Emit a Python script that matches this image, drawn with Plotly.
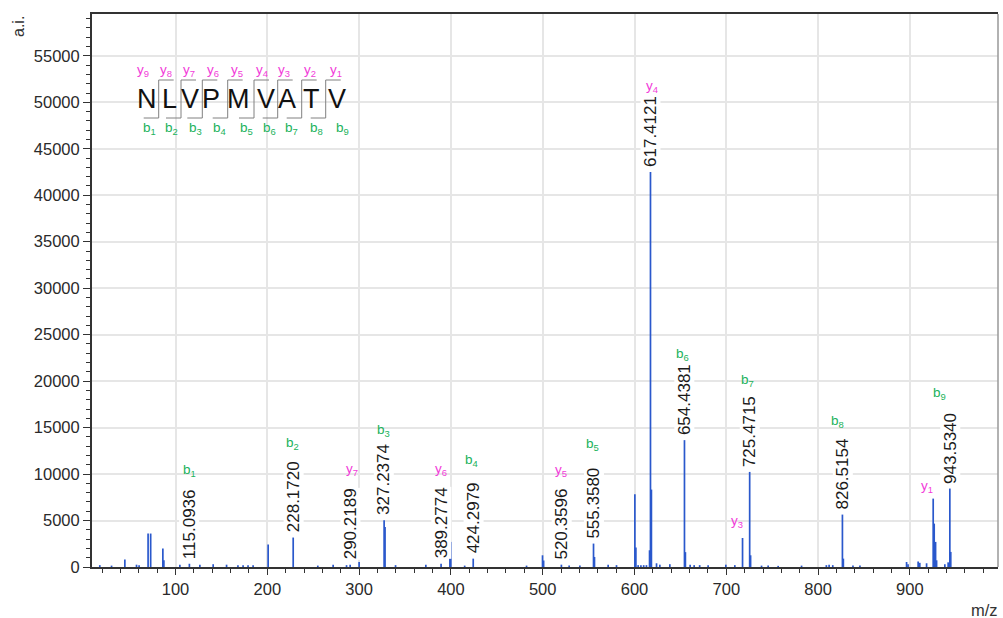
import plotly.graph_objects as go

# ---------------- data ----------------
peak_mz = [17.5, 30.3, 44.8, 57.5, 60.3, 70.1, 72.9, 86.2, 87.3, 104.7,
           115.0936, 126.5, 141.0, 155.6, 168.0, 173.6, 179.0, 184.5, 200.9,
           228.1720, 255.0, 271.7, 286.3, 290.2189, 300.0, 327.2374, 328.24,
           339.7, 372.7, 389.2774, 398.9, 399.9, 415.0, 424.2979, 482.4, 499.8,
           501.0, 520.3596, 528.8, 540.5, 555.3580, 556.4, 571.3, 580.4, 600.4,
           601.5, 604.0, 607.0, 610.0, 613.0, 616.4, 617.4121, 618.42, 624.0,
           627.6, 638.5, 654.4381, 655.45, 660.6, 665.0, 671.0, 680.2, 699.5,
           709.3, 717.7, 725.4715, 726.47, 738.4, 745.6, 756.5, 782.0, 809.0,
           812.0, 816.0, 826.5154, 827.52, 838.0, 845.6, 896.4, 898.0, 909.0,
           910.8, 918.2, 925.4, 926.5, 928.0, 929.1, 938.1, 941.7, 943.5340,
           944.54]
peak_int = [200, 150, 800, 250, 200, 3600, 3600, 1980, 720, 250,
            350, 250, 300, 250, 200, 200, 200, 200, 2410,
            3170, 150, 250, 200, 250, 550, 5020, 4300,
            200, 250, 350, 1300, 2700, 150, 900, 150, 1260,
            700, 250, 150, 150, 2520, 1080, 250, 200, 7830,
            2090, 200, 200, 200, 200, 1800, 42500, 8330, 400,
            250, 300, 13650, 1600, 250, 200, 200, 200, 250,
            200, 3120, 10230, 1260, 150, 150, 120, 150, 200,
            250, 200, 5640, 900, 150, 150, 540, 300, 600,
            450, 400, 7360, 4670, 2700, 720, 300, 500, 8440,
            1620]

labeled_mz = [115.0936, 228.1720, 290.2189, 327.2374, 389.2774, 424.2979,
              520.3596, 555.3580, 617.4121, 654.4381, 725.4715, 826.5154,
              943.5340]
labeled_int = [350, 3170, 250, 5020, 350, 900, 250, 2520, 42500, 13650,
               10230, 5640, 8440]

ion_names = ["b1", "b2", "y7", "b3", "y6", "b4", "y5", "b5", "y4", "b6",
             "y3", "b7", "b8", "y1", "b9"]
ion_mz = [115.6, 227.8, 292.1, 326.9, 389.0, 422.8, 519.8, 554.6, 618.9,
          652.6, 711.5, 723.5, 821.6, 918.5, 932.7]
ion_int = [10200, 13110, 10310, 14510, 10310, 11280, 10200, 13000, 51440,
           22690, 4710, 19890, 15480, 8480, 18500]

sequence = ["N", "L", "V", "P", "M", "V", "A", "T", "V"]
y_ion_tags = ["y9", "y8", "y7", "y6", "y5", "y4", "y3", "y2", "y1"]
b_ion_tags = ["b1", "b2", "b3", "b4", "b5", "b6", "b7", "b8", "b9"]

x_range = [9, 996]
y_range = [0, 59500]

# ---------------- layout helpers (pixel -> paper) ----------------
ML, MR, MT, MB = 92, 5, 14, 51
W, H = 1003, 618
PW, PH = W - ML - MR, H - MT - MB


def px(x):
    return (x - ML) / PW


def py(y):
    return (MT + PH - y) / PH


MAGENTA = "#f23bd9"
GREEN = "#20b25a"
FONT = "Arial, Liberation Sans, sans-serif"

# ---------------- peaks ----------------
xs, ys = [], []
for m, v in zip(peak_mz, peak_int):
    xs += [m, m, None]
    ys += [0, v, None]

fig = go.Figure()
fig.add_trace(go.Scatter(x=xs, y=ys, mode="lines",
                         line=dict(color="#2a58cc", width=1.7),
                         hoverinfo="skip", showlegend=False))

annotations = []
for m, v in zip(labeled_mz, labeled_int):
    annotations.append(dict(x=m, y=v, xref="x", yref="y", text=f"{m:.4f}",
                            textangle=-90, showarrow=False, xanchor="center",
                            yanchor="bottom", yshift=4, bgcolor="white",
                            borderpad=0,
                            font=dict(family=FONT, size=17, color="#1a1a1a")))

for name, m, v in zip(ion_names, ion_mz, ion_int):
    col = MAGENTA if name[0] == "y" else GREEN
    annotations.append(dict(x=m, y=v, xref="x", yref="y",
                            text=f"{name[0]}<sub>{name[1:]}</sub>",
                            showarrow=False, xanchor="center", yanchor="middle",
                            yshift=2,
                            font=dict(family=FONT, size=13.5, color=col)))

# sequence diagram (decoration, positioned in pixels)
letter_px = [146.7, 169, 190, 210.7, 238.3, 265.7, 287.3, 311.7, 336.7]
ytag_px = [142.7, 165.7, 189, 213.3, 237.3, 261.7, 284.3, 310, 336]
btag_px = [149, 171.7, 195, 219, 246.7, 269.3, 291.7, 316.7, 342.3]
cut_px = [158.7, 181, 202.3, 227.7, 254, 277.7, 301.7, 325.7]

for ch, xp in zip(sequence, letter_px):
    annotations.append(dict(x=px(xp), y=py(98.5), xref="paper", yref="paper",
                            text=ch, showarrow=False, xanchor="center",
                            yanchor="middle",
                            font=dict(family=FONT, size=27, color="#111")))
for tag, xp in zip(y_ion_tags, ytag_px):
    annotations.append(dict(x=px(xp), y=py(70), xref="paper", yref="paper",
                            text=f"{tag[0]}<sub>{tag[1:]}</sub>",
                            showarrow=False, xanchor="center", yanchor="middle",
                            font=dict(family=FONT, size=13.5, color=MAGENTA)))
for tag, xp in zip(b_ion_tags, btag_px):
    annotations.append(dict(x=px(xp), y=py(128), xref="paper", yref="paper",
                            text=f"{tag[0]}<sub>{tag[1:]}</sub>",
                            showarrow=False, xanchor="center", yanchor="middle",
                            font=dict(family=FONT, size=13.5, color=GREEN)))

shapes = []
for xc in cut_px:
    line = dict(color="#808080", width=1)
    shapes.append(dict(type="line", xref="paper", yref="paper",
                       x0=px(xc), x1=px(xc), y0=py(80), y1=py(118), line=line))
    shapes.append(dict(type="line", xref="paper", yref="paper",
                       x0=px(xc), x1=px(xc + 15), y0=py(80), y1=py(80), line=line))
    shapes.append(dict(type="line", xref="paper", yref="paper",
                       x0=px(xc - 15), x1=px(xc), y0=py(118), y1=py(118), line=line))
# right frame
shapes.append(dict(type="line", xref="paper", yref="paper", x0=1, x1=1,
                   y0=0, y1=1, line=dict(color="#999", width=1.5)))

annotations.append(dict(x=px(19), y=py(27), xref="paper", yref="paper",
                        text="a.i.", textangle=-90, showarrow=False,
                        xanchor="center", yanchor="middle",
                        font=dict(family=FONT, size=16, color="#333")))
annotations.append(dict(x=px(984), y=py(610), xref="paper", yref="paper",
                        text="m/z", showarrow=False, xanchor="center",
                        yanchor="middle",
                        font=dict(family=FONT, size=16.5, color="#333")))

fig.update_layout(
    width=W, height=H,
    margin=dict(l=ML, r=MR, t=MT, b=MB),
    paper_bgcolor="white", plot_bgcolor="white",
    annotations=annotations, shapes=shapes,
    xaxis=dict(range=x_range, dtick=100, tick0=0, showgrid=True,
               gridcolor="#e6e6e6", gridwidth=1.5, zeroline=False,
               showline=True, linecolor="#333", linewidth=2, mirror=True,
               ticks="outside", ticklen=6, tickcolor="#333",
               minor=dict(dtick=20, ticks="outside", ticklen=4,
                          tickcolor="#333", showgrid=False),
               tickfont=dict(family=FONT, size=16.5, color="#2a2a2a")),
    yaxis=dict(range=y_range, dtick=5000, tick0=0, tickformat="d",
               showgrid=True, gridcolor="#e6e6e6", gridwidth=1.5,
               zeroline=False, showline=True, linecolor="#333", linewidth=2,
               ticks="outside", ticklen=7, tickcolor="#333",
               minor=dict(dtick=1000, ticks="outside", ticklen=4,
                          tickcolor="#333", showgrid=False),
               tickfont=dict(family=FONT, size=16.5, color="#2a2a2a")),
)

fig.write_html("out.html")
